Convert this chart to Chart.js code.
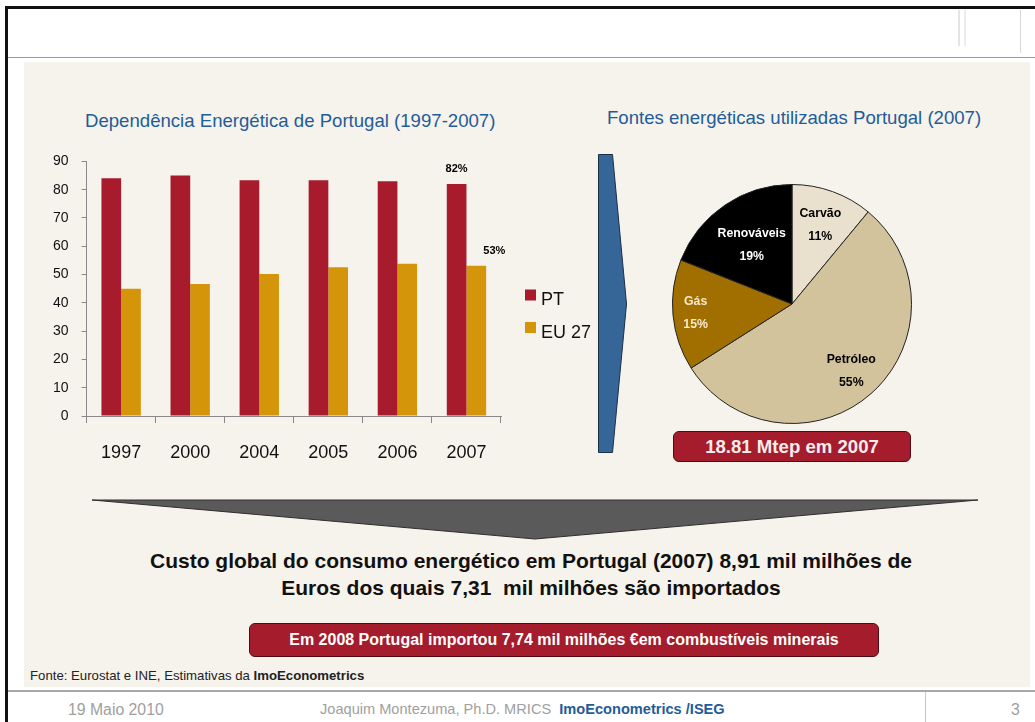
<!DOCTYPE html>
<html>
<head>
<meta charset="utf-8">
<script src="https://cdn.jsdelivr.net/npm/chart.js@4.4.1/dist/chart.umd.min.js"></script>
<style>
  body { margin: 0; width: 1035px; height: 722px; position: relative; overflow: hidden; background: #fff;
         font-family: "Liberation Sans", Arial, sans-serif; }
  .abs { position: absolute; }
  #topLine { left: 5px; top: 6px; width: 1030px; height: 3px; background: #111; }
  #leftLine { left: 5px; top: 6px; width: 3px; height: 716px; background: #111; }
  #headLine { left: 8px; top: 57px; width: 1027px; height: 1px; background: #9a9a9a; }
  #panel { left: 24px; top: 62px; width: 1006px; height: 625px; background: #f6f3ec; }
  .title { color: #1f5c99; font-size: 18.6px; white-space: nowrap; }
  .redBox { background: #a51c2d; border: 1px solid #4d0c14; border-radius: 6px; color: #f6ecec;
            font-weight: bold; text-align: center; box-sizing: border-box; white-space: nowrap; }
  #footLine { left: 8px; top: 690px; width: 1027px; height: 2px; background: #a8a8a8; }
  .foot { color: #a0a0a0; font-size: 14.6px; top: 701px; white-space: nowrap; }
</style>
</head>
<body>
<div class="abs" id="topLine"></div>
<div class="abs" id="headLine"></div>
<div class="abs" style="left:958px;top:10px;width:2px;height:36px;background:#e4e4e4"></div>
<div class="abs" style="left:964px;top:10px;width:2px;height:36px;background:#ececec"></div>
<div class="abs" style="left:1020px;top:10px;width:1px;height:43px;background:#d8d8d8"></div>
<div class="abs" id="panel"></div>
<div class="abs" id="leftLine"></div>

<svg class="abs" style="left:0;top:0" width="1035" height="722">
  <polygon points="598.5,154.5 612.5,154.5 626.5,304 612.5,452.5 598.5,452.5" fill="#356697" stroke="#1c2f44" stroke-width="1"/>
  <polygon points="92,500 978,500 535,539" fill="#5a5a5a" stroke="#2e2e2e" stroke-width="1"/>
</svg>

<div class="abs title" style="left:85px;top:110px">Dependência Energética de Portugal (1997-2007)</div>
<div class="abs title" style="left:607px;top:107px">Fontes energéticas utilizadas Portugal (2007)</div>

<canvas id="barChart" class="abs" style="left:20px;top:140px" width="590" height="340"></canvas>
<canvas id="pieChart" class="abs" style="left:672px;top:184px" width="240" height="240"></canvas>

<div class="abs redBox" style="left:673px;top:431px;width:238px;height:31px;font-size:18.6px;line-height:29px">18.81 Mtep em 2007</div>

<div class="abs" style="left:131px;top:547px;width:800px;text-align:center;font-weight:bold;font-size:21px;line-height:27px;color:#111;white-space:nowrap">
  Custo global do consumo energético em Portugal (2007) 8,91 mil milhões de<br>Euros dos quais 7,31 &nbsp;mil milhões são importados
</div>

<div class="abs redBox" style="left:249px;top:623px;width:630px;height:34px;font-size:16px;line-height:32px;color:#fff">Em 2008 Portugal importou 7,74 mil milhões €em combustíveis minerais</div>

<div class="abs" style="left:30px;top:668px;font-size:13.2px;color:#222;white-space:nowrap">Fonte: Eurostat e INE, Estimativas da <b>ImoEconometrics</b></div>

<div class="abs" id="footLine"></div>
<div class="abs" style="left:925px;top:692px;width:1px;height:30px;background:#c8c8c8"></div>
<div class="abs foot" style="left:68px;font-size:15.8px">19 Maio 2010</div>
<div class="abs foot" style="left:320px">Joaquim Montezuma, Ph.D. MRICS &nbsp;<b style="color:#1f5c99">ImoEconometrics /ISEG</b></div>
<div class="abs foot" style="left:1011px;font-size:15.8px">3</div>

<script>
// bar chart data
const years = ['1997', '2000', '2004', '2005', '2006', '2007'];
const ptValues = [84, 85, 83.3, 83.3, 83, 82];
const euValues = [45, 46.7, 50.2, 52.6, 53.8, 53.1];
const ptLabels = ['', '', '', '', '', '82%'];
const euLabels = ['', '', '', '', '', '53%'];
const seriesNames = ['PT', 'EU 27'];
const yMax = 90;
const yStep = 10;

// pie chart data
const sourceNames = ['Carvão', 'Petróleo', 'Gás', 'Renováveis'];
const sourceShares = [11, 55, 15, 19];
const shareLabels = ['11%', '55%', '15%', '19%'];

const FONT = '"Liberation Sans", Arial, sans-serif';

// percent labels above the last bars
const barLabels = {
  id: 'barLabels',
  afterDatasetsDraw(chart) {
    const c = chart.ctx;
    c.save();
    c.font = 'bold 11px ' + FONT;
    c.fillStyle = '#000';
    c.textAlign = 'center';
    c.textBaseline = 'middle';
    const lists = [ptLabels, euLabels];
    chart.data.datasets.forEach((ds, i) => {
      chart.getDatasetMeta(i).data.forEach((bar, j) => {
        const txt = lists[i][j];
        if (!txt) return;
        const shift = i === 1 ? 18 : 0;
        c.fillText(txt, bar.x + shift, bar.y - 15);
      });
    });
    c.restore();
  }
};

// legend to the right of the bars
const sideLegend = {
  id: 'sideLegend',
  afterDraw(chart) {
    const c = chart.ctx;
    c.save();
    c.font = '18px ' + FONT;
    c.textBaseline = 'alphabetic';
    chart.data.datasets.forEach((ds, i) => {
      const top = 149.5 + i * 32.5;
      c.fillStyle = ds.backgroundColor;
      c.fillRect(505, top, 11, 11);
      c.fillStyle = '#111';
      c.fillText(ds.label, 521, top + 15.5);
    });
    c.restore();
  }
};

new Chart(document.getElementById('barChart'), {
  type: 'bar',
  data: {
    labels: years,
    datasets: [
      { label: seriesNames[0], data: ptValues, backgroundColor: '#a71b2d' },
      { label: seriesNames[1], data: euValues, backgroundColor: '#d4950a' }
    ]
  },
  options: {
    responsive: false,
    animation: false,
    categoryPercentage: 0.57,
    barPercentage: 1,
    layout: { padding: { top: 21, right: 109, left: 0, bottom: 0 } },
    plugins: { legend: { display: false }, tooltip: { enabled: false } },
    scales: {
      x: {
        grid: { display: true, drawOnChartArea: false, tickLength: 7, color: '#888', offset: true },
        border: { color: '#888' },
        ticks: { color: '#111', font: { family: FONT, size: 18 }, padding: 19, maxRotation: 0 },
        afterFit: s => { s.height = 64; }
      },
      y: {
        min: 0,
        max: yMax,
        grid: { display: true, drawOnChartArea: false, tickLength: 5, color: '#888' },
        border: { color: '#888' },
        ticks: { stepSize: yStep, color: '#111', font: { family: FONT, size: 14 }, padding: 13 },
        afterFit: s => { s.width = 66.6; }
      }
    }
  },
  plugins: [barLabels, sideLegend]
});

// two-line labels inside the slices
const pieLabels = {
  id: 'pieLabels',
  afterDatasetsDraw(chart) {
    const c = chart.ctx;
    const radiusShare = [0.70, 0.75, 0.81, 0.60];
    const textColors = ['#000', '#000', '#f7ead0', '#fff'];
    c.save();
    c.font = 'bold 12.3px ' + FONT;
    c.textAlign = 'center';
    c.textBaseline = 'middle';
    chart.getDatasetMeta(0).data.forEach((arc, i) => {
      const mid = (arc.startAngle + arc.endAngle) / 2;
      const r = arc.outerRadius * radiusShare[i];
      const x = arc.x + Math.cos(mid) * r;
      const y = arc.y + Math.sin(mid) * r;
      c.fillStyle = textColors[i];
      c.fillText(chart.data.labels[i], x, y - 11.5);
      c.fillText(shareLabels[i], x, y + 11.5);
    });
    c.restore();
  }
};

new Chart(document.getElementById('pieChart'), {
  type: 'pie',
  data: {
    labels: sourceNames,
    datasets: [{
      data: sourceShares,
      backgroundColor: ['#e9e1cd', '#d3c39c', '#a06f00', '#000000'],
      borderColor: '#222',
      borderWidth: 1
    }]
  },
  options: {
    responsive: false,
    animation: false,
    layout: { padding: 0 },
    plugins: { legend: { display: false }, tooltip: { enabled: false } }
  },
  plugins: [pieLabels]
});
</script>
</body>
</html>
